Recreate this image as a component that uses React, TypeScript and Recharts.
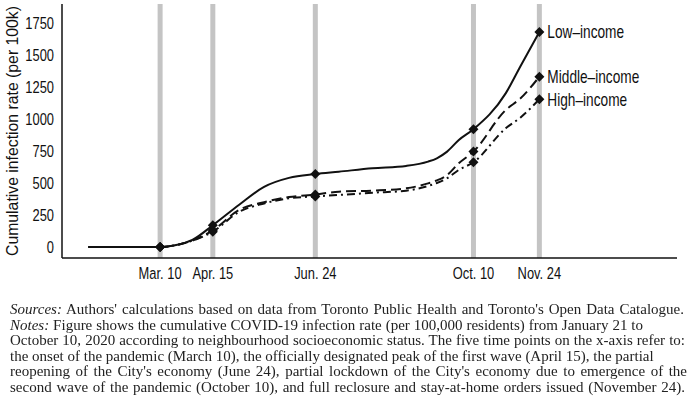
import { LineChart, Line, XAxis, YAxis, ReferenceLine, LabelList } from 'recharts';

// day of year 2020 (Jan 1 = 0)
const days = [20, 40, 69, 80, 91, 105, 123, 140, 157, 175, 191, 214, 237, 252, 258, 265, 273, 283, 305, 315, 328];
const lowIncome = [0, 0, 0, 15, 55, 170, 330, 470, 540, 570, 588, 615, 633, 667, 693, 745, 836, 920, 1200, 1410, 1680];
const middleIncome = [0, 0, 0, 15, 50, 130, 290, 350, 390, 410, 432, 440, 458, 497, 520, 562, 654, 745, 1070, 1160, 1330];
const highIncome = [0, 0, 0, 15, 50, 120, 275, 340, 380, 395, 406, 424, 440, 477, 500, 537, 602, 662, 927, 1010, 1154];

const markerDays = [69, 105, 175, 283, 328];
const markerLabels = ['Mar. 10', 'Apr. 15', 'Jun. 24', 'Oct. 10', 'Nov. 24'];
const yTicks = [0, 250, 500, 750, 1000, 1250, 1500, 1750];

const captionLines = [
  { w: 674, parts: [['Sources:', true], [" Authors' calculations based on data from Toronto Public Health and Toronto's Open Data Catalogue.", false]] },
  { w: 633, parts: [['Notes:', true], [' Figure shows the cumulative COVID-19 infection rate (per 100,000 residents) from January  21 to', false]] },
  { w: 675, parts: [['October 10, 2020 according to neighbourhood socioeconomic status. The five time points on the x-axis refer to:', false]] },
  { w: 643, parts: [['the onset of the pandemic (March 10), the officially designated peak of the first wave (April 15), the partial', false]] },
  { w: 677, parts: [["reopening of the City's economy (June 24), partial lockdown of the City's economy due to emergence of the", false]] },
  { w: 675, parts: [['second wave of the pandemic (October 10), and full reclosure and stay-at-home orders issued (November 24).', false]] },
];

const data = days.map((d, i) => ({ day: d, low: lowIncome[i], middle: middleIncome[i], high: highIncome[i] }));

const sans = '"Liberation Sans", Arial, sans-serif';
const SQUEEZE = 0.76;

// condensed look: squeeze Liberation Sans horizontally
const NarrowText = ({ x, y, anchor, size, children }: any) => (
  <g transform={`translate(${x},${y}) scale(${SQUEEZE},1)`}>
    <text x={0} y={0} dy="0.35em" textAnchor={anchor} fontSize={size} fontFamily={sans} fill="#111">
      {children}
    </text>
  </g>
);

const XTick = (props: any) => {
  const { x, y, payload } = props;
  return <NarrowText x={x} y={y + 7} anchor="middle" size={17}>{markerLabels[markerDays.indexOf(payload.value)]}</NarrowText>;
};

const YTick = (props: any) => {
  const { x, y, payload } = props;
  return <NarrowText x={x} y={y} anchor="end" size={17}>{payload.value}</NarrowText>;
};

const Diamond = (props: any) => {
  const { cx, cy, payload, index } = props;
  if (!markerDays.includes(payload.day)) return <g key={'d' + index} />;
  const s = 5;
  return <path key={'d' + index} d={`M${cx},${cy - s}L${cx + s},${cy}L${cx},${cy + s}L${cx - s},${cy}Z`} fill="#111" />;
};

const endLabel = (text: string) => (props: any) => {
  const { x, y, index } = props;
  if (index !== data.length - 1) return null;
  return <NarrowText x={x + 8} y={y} anchor="start" size={18}>{text}</NarrowText>;
};

const yLabel = () => (
  <g transform="translate(12,131) rotate(-90)">
    <text x={0} y={0} dy="0.35em" textAnchor="middle" fontSize={17} fontFamily={sans} fill="#111" textLength={250} lengthAdjust="spacingAndGlyphs">
      Cumulative infection rate (per 100k)
    </text>
  </g>
);

export default function App() {
  return (
    <div style={{ position: 'fixed', left: 0, top: 0, width: 687, height: 406, background: '#fff' }}>
      <LineChart width={687} height={290} data={data} margin={{ top: 4, right: 10, left: 12, bottom: 7 }}>
        {markerDays.map(d => (
          <ReferenceLine key={d} x={d} stroke="#c4c4c4" strokeWidth={5} />
        ))}
        <XAxis
          type="number"
          dataKey="day"
          domain={[2, 422]}
          ticks={markerDays}
          tickLine={false}
          axisLine={{ stroke: '#111', strokeWidth: 1.5 }}
          tick={<XTick />}
          height={25}
          interval={0}
        />
        <YAxis
          domain={[-86, 1898]}
          ticks={yTicks}
          tickLine={false}
          axisLine={{ stroke: '#111', strokeWidth: 1.5 }}
          tick={<YTick />}
          width={50}
          label={{ content: yLabel }}
        />
        <Line type="monotone" dataKey="high" stroke="#111" strokeWidth={2} strokeDasharray="8 4 2 4" dot={Diamond} isAnimationActive={false}>
          <LabelList dataKey="high" content={endLabel('High–income')} />
        </Line>
        <Line type="monotone" dataKey="middle" stroke="#111" strokeWidth={2} strokeDasharray="10 5" dot={Diamond} isAnimationActive={false}>
          <LabelList dataKey="middle" content={endLabel('Middle–income')} />
        </Line>
        <Line type="monotone" dataKey="low" stroke="#111" strokeWidth={2} dot={Diamond} isAnimationActive={false}>
          <LabelList dataKey="low" content={endLabel('Low–income')} />
        </Line>
      </LineChart>
      <div style={{ position: 'absolute', left: 10, top: 302, fontFamily: '"Liberation Serif", "Times New Roman", serif', fontSize: 15, lineHeight: '15.5px', color: '#222' }}>
        {captionLines.map((ln, i) => (
          <div key={i} style={{ width: ln.w, whiteSpace: 'nowrap', textAlign: 'justify', textAlignLast: 'justify' }}>
            {ln.parts.map(([t, it], j) => (
              <span key={j} style={{ fontStyle: it ? 'italic' : 'normal' }}>{t as string}</span>
            ))}
          </div>
        ))}
      </div>
    </div>
  );
}
